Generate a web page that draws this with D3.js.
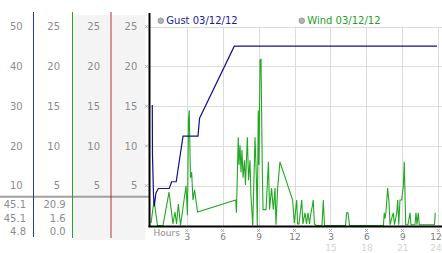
<!DOCTYPE html>
<html>
<head>
<meta charset="utf-8">
<script src="https://cdn.jsdelivr.net/npm/d3@7"></script>
<style>
  body { margin: 0; background: #fff; }
  svg { display: block; font-family: "DejaVu Sans", Verdana, sans-serif; }
</style>
</head>
<body>
<div id="chart"></div>
<script>
// gust (blue, mph on 0-50) and wind (green, mph on 0-25) over 24 hours
const gustHours = [0.125, 0.14, 0.225, 0.29, 0.43, 0.63, 1.54, 1.74, 2.12, 2.69, 3.94, 4.07, 6.97, 23.89];
const gustMph   = [30.3, 17.7, 7.7, 4.8, 8.2, 9.3, 9.3, 11.0, 11.0, 22.5, 22.5, 27.0, 45.1, 45.1];

const windHours = [0.02, 0.27, 0.56, 1.02, 1.52, 1.85, 2.02, 2.15, 2.30, 2.48, 2.94, 3.06, 3.15, 3.21, 3.31, 3.41, 3.52, 3.65, 3.90,
  7.09, 7.15, 7.30, 7.36, 7.45, 7.53, 7.61, 7.70, 7.82, 7.90, 8.06, 8.16, 8.28, 8.36, 8.51, 8.70, 8.82, 8.89, 8.97, 9.03, 9.12, 9.20,
  9.31, 9.37, 9.62, 9.82, 9.91, 10.08, 10.23, 10.37, 10.45, 10.59, 10.78, 11.84, 11.98, 12.18, 12.25, 12.37, 12.60, 12.70, 12.87,
  13.0, 13.12, 13.25, 13.37, 13.48, 13.56, 13.66, 13.79, 14.29, 14.40, 14.50, 16.25, 16.35, 16.46, 16.59, 19.42, 19.49, 19.55,
  19.63, 19.77, 19.88, 19.97, 20.11, 20.24, 20.34, 20.53, 20.61, 20.70, 20.80, 20.94, 21.08, 21.16, 21.28, 21.47, 21.64, 21.72,
  22.05, 22.14, 22.22, 22.33, 22.41, 23.68, 23.75];
const windMph = [0.3, 3.2, 0, 0, 4.2, 0.2, 1.7, 0.2, 2.7, 0, 5.0, 1.3, 13.4, 14.5, 6.0, 6.7, 3.2, 4.5, 1.7,
  3.2, 1.6, 11.1, 7.6, 10.1, 6.7, 9.5, 6.0, 8.2, 5.1, 11.1, 5.7, 8.2, 3.8, 0, 11.1, 5.7, 0, 14.5, 7.6, 20.8, 20.9,
  6.6, 2.0, 2.0, 8.0, 2.0, 4.7, 2.0, 4.7, 0.1, 4.7, 8.0, 3.2, 0.3, 3.2, 0.2, 0.2, 3.2, 0.2, 1.6,
  0.2, 1.6, 0.2, 1.6, 2.4, 3.2, 0.2, 0, 0, 3.2, 0, 0, 1.6, 1.6, 0, 0, 1.6, 0.9,
  1.6, 4.7, 3.0, 0.1, 0.9, 1.6, 0.1, 1.6, 3.2, 0.1, 3.2, 3.2, 4.9, 8.0, 0.1, 0.1, 1.6, 0.1,
  0.1, 1.6, 0.1, 1.6, 0.1, 0.1, 1.6];

const gustTicks = [10, 20, 30, 40, 50];
const windTicks = [5, 10, 15, 20, 25];
const hourTicks = [3, 6, 9, 12, 15, 18, 21, 24];
const hourLabels = ['3', '6', '9', '12', '3', '6', '9', '12'];
const hourLabels2 = ['', '', '', '', '15', '18', '21', '24'];
const gustStats = ['45.1', '45.1', '4.8'];
const windStats = ['20.9', '1.6', '0.0'];

let width = 442;
let height = 253;

let svg = d3.select('#chart').append('svg')
    .attr('width', width)
    .attr('height', height);

const x = d3.scaleLinear().domain([0, 24]).range([150.8, 438.3]);
const yWind = d3.scaleLinear().domain([0, 25]).range([225.5, 26.7]);
const yGust = d3.scaleLinear().domain([0, 50]).range([225.5, 26.7]);

//Panel izquierdo
svg.append('rect').attr('x', 73).attr('y', 15).attr('width', 37.5).attr('height', 225).attr('fill', '#f4f4f4');
svg.append('rect').attr('x', 112).attr('y', 15).attr('width', 33.5).attr('height', 225).attr('fill', '#f4f4f4');

function labelAxis(scale, ticks, xPos, fmt) {
    let g = svg.append('g')
        .attr('transform', 'translate(' + xPos + ',0)')
        .call(d3.axisLeft(scale).tickValues(ticks).tickSize(0).tickPadding(0).tickFormat(fmt));
    g.select('.domain').remove();
    g.selectAll('text')
        .attr('font-family', '"DejaVu Sans", Verdana, sans-serif')
        .attr('font-size', 10)
        .attr('fill', '#8c8c8c');
    return g;
}
labelAxis(yGust, gustTicks, 22.7, d3.format('d'));
labelAxis(yWind, windTicks, 60, d3.format('d'));
labelAxis(yWind, windTicks, 100, d3.format('d'));
labelAxis(yWind, windTicks, 137.3, d3.format('d'));

// separador y estadisticas
svg.append('line').attr('x1', 0).attr('x2', 149).attr('y1', 196.7).attr('y2', 196.7)
    .attr('stroke', '#a0a0a0').attr('stroke-width', 2);

const statY = d3.scalePoint().domain(d3.range(3)).range([204.5, 231.5]);
svg.append('g').selectAll('text').data(gustStats).enter().append('text')
    .attr('x', 26).attr('y', (d, i) => statY(i)).attr('dy', '0.35em')
    .attr('text-anchor', 'end').attr('font-size', 10).attr('fill', '#8c8c8c').text(d => d);
svg.append('g').selectAll('text').data(windStats).enter().append('text')
    .attr('x', 65.7).attr('y', (d, i) => statY(i)).attr('dy', '0.35em')
    .attr('text-anchor', 'end').attr('font-size', 10).attr('fill', '#8c8c8c').text(d => d);

// lineas verticales de color
svg.append('line').attr('x1', 33.5).attr('x2', 33.5).attr('y1', 12).attr('y2', 237).attr('stroke', '#1f3f9f').attr('stroke-width', 1);
svg.append('line').attr('x1', 72.5).attr('x2', 72.5).attr('y1', 12).attr('y2', 238).attr('stroke', '#2f9f2f').attr('stroke-width', 1);
svg.append('line').attr('x1', 111).attr('x2', 111).attr('y1', 12).attr('y2', 238).attr('stroke', '#b02a2a').attr('stroke-width', 1);

//Rejilla
svg.append('g').selectAll('line').data(windTicks).enter().append('line')
    .attr('x1', 150).attr('x2', width)
    .attr('y1', d => Math.round(yWind(d)) + 0.5).attr('y2', d => Math.round(yWind(d)) + 0.5)
    .attr('stroke', '#dcdcdc');
svg.append('g').selectAll('line').data(hourTicks).enter().append('line')
    .attr('x1', d => Math.round(x(d)) + 0.5).attr('x2', d => Math.round(x(d)) + 0.5)
    .attr('y1', yWind(25)).attr('y2', 226)
    .attr('stroke', '#dcdcdc');

// marcas pequeñas
function mark(g, cx, cy) {
    g.append('path')
        .attr('d', 'M' + (cx - 1.5) + ',' + (cy - 1.5) + 'l3,3M' + (cx + 1.5) + ',' + (cy - 1.5) + 'l-3,3')
        .attr('stroke', '#a8a8a8').attr('stroke-width', 0.9).attr('fill', 'none');
}
let marks = svg.append('g');
windTicks.forEach(t => mark(marks, 146.5, yWind(t)));
hourTicks.forEach(t => mark(marks, x(t), 230.5));

//Series
let gustLine = d3.line().x((d, i) => x(gustHours[i])).y(d => yGust(d));
let windLine = d3.line().x((d, i) => x(windHours[i])).y(d => yWind(d));

svg.append('path').datum(windMph)
    .attr('d', windLine)
    .attr('fill', 'none').attr('stroke', '#22a822').attr('stroke-width', 1.1);
svg.append('path').datum(gustMph)
    .attr('d', gustLine)
    .attr('fill', 'none').attr('stroke', '#10108e').attr('stroke-width', 1.2);

// ejes negros
svg.append('line').attr('x1', 149.5).attr('x2', 149.5).attr('y1', 13).attr('y2', 227).attr('stroke', '#000').attr('stroke-width', 2);
svg.append('line').attr('x1', 148.5).attr('x2', width).attr('y1', 226.5).attr('y2', 226.5).attr('stroke', '#000').attr('stroke-width', 2);

// eje X (dos filas de etiquetas)
function hourAxis(yPos, labels, color) {
    let g = svg.append('g')
        .attr('transform', 'translate(0,' + yPos + ')')
        .call(d3.axisBottom(x).tickValues(hourTicks).tickSize(0).tickPadding(0).tickFormat((d, i) => labels[i]));
    g.select('.domain').remove();
    g.selectAll('text')
        .attr('dy', '0.35em').attr('y', 0)
        .attr('font-family', '"DejaVu Sans", Verdana, sans-serif')
        .attr('font-size', 9).attr('fill', color)
        .attr('text-anchor', d => d === 24 ? 'end' : 'middle')
        .attr('x', d => d === 24 ? 3 : 0);
    return g;
}
hourAxis(237.2, hourLabels, '#7c7c7c');
hourAxis(247.9, hourLabels2, '#d2d2d2');

svg.append('text').attr('x', 153.5).attr('y', 232.5).attr('dy', '0.35em')
    .attr('font-size', 9).attr('fill', '#8c8c8c').text('Hours');

//Leyenda
let legend = [
    { label: 'Gust 03/12/12', cx: 160.8, color: '#1c1c9c' },
    { label: 'Wind 03/12/12', cx: 301.8, color: '#25a025' }
];
let lg = svg.append('g').selectAll('g').data(legend).enter().append('g');
lg.append('circle').attr('cx', d => d.cx).attr('cy', 20.7).attr('r', 2.8)
    .attr('fill', '#b4b4b4').attr('stroke', '#8c8c8c').attr('stroke-width', 0.8);
lg.append('text').attr('x', d => d.cx + 5.5).attr('y', 20.7).attr('dy', '0.36em')
    .attr('font-size', 10).attr('fill', d => d.color).text(d => d.label);
</script>
</body>
</html>
